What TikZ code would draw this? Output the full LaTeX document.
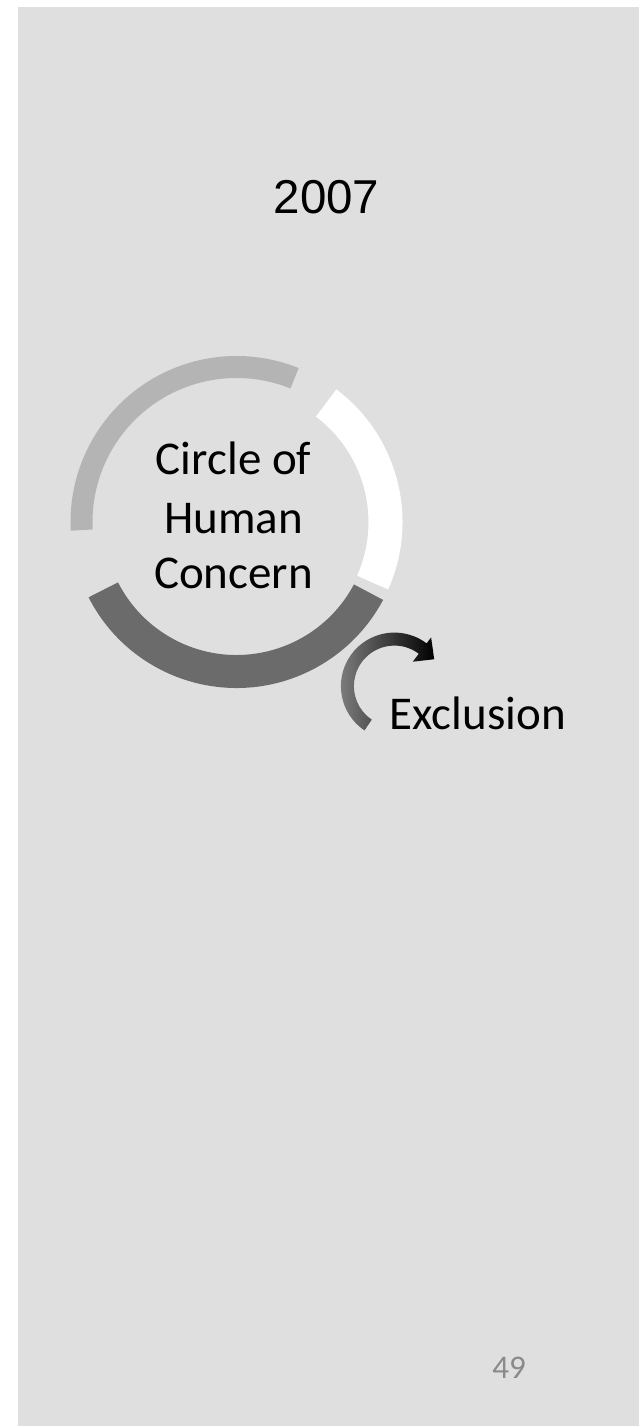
\documentclass[tikz,border=0pt]{standalone}
\usepackage{fontspec}
\setmainfont{Carlito}
\newfontfamily\yearfont{Liberation Sans}
\usetikzlibrary{calc}

\definecolor{slidebg}{HTML}{DFDFDF}
\definecolor{seglight}{HTML}{B4B4B4}
\definecolor{segdark}{HTML}{6B6B6B}
\definecolor{pagenum}{HTML}{8A8A8A}

\tikzset{
  seglightstyle/.style={fill=seglight},
  segwhitestyle/.style={fill=white},
  segdarkstyle/.style={fill=segdark},
  hookshade/.style={left color=black!48, right color=black},
  bodytext/.style={inner sep=0pt, font=\fontsize{47}{56}\selectfont},
  yeartext/.style={inner sep=0pt, font=\yearfont\fontsize{47.5}{57}\selectfont},
  pagetext/.style={inner sep=0pt, text=pagenum, font=\fontsize{33}{40}\selectfont},
}

\begin{document}
\begin{tikzpicture}[x=1pt,y=1pt]
  % page and slide background
  \fill[white] (0,0) rectangle (644,1426);
  \useasboundingbox (0,0) rectangle (644,1426);
  \fill[slidebg] (18,0) rectangle (639,1419);

  % year heading
  \node[yeartext, anchor=base] (year) at (326.5,1212) {2007};

  % ring of three segments
  \coordinate (ring) at (236.5,904);
  \fill[seglightstyle] ($(ring)+(68:166)$) arc[start angle=68, end angle=183, radius=166]
    -- ($(ring)+(183:144)$) arc[start angle=183, end angle=68, radius=144] -- cycle;
  \fill[segwhitestyle] ($(ring)+(-24:166)$) arc[start angle=-24, end angle=53, radius=166]
    -- ($(ring)+(53:132)$) arc[start angle=53, end angle=-24, radius=132] -- cycle;
  \fill[segdarkstyle] ($(ring)+(207:166)$) arc[start angle=207, end angle=332, radius=166]
    -- ($(ring)+(332:133)$) arc[start angle=332, end angle=207, radius=133] -- cycle;

  % label inside the ring
  \node[bodytext, anchor=base] (lineone) at (233.5,951) {Circle of};
  \node[bodytext, anchor=base] (linetwo) at (233.5,892.7) {Human};
  \node[bodytext, anchor=base] (linethree) at (233.5,837.7) {Concern};

  % curved arrow
  \coordinate (hook) at (394.4,739.9);
  \shade[hookshade] ($(hook)+(236:53.5)$) arc[start angle=236, end angle=53, radius=53.5]
    -- ($(hook)+(53:61)$) -- ($(hook)+(34:48)$) -- ($(hook)+(53:30.5)$)
    -- ($(hook)+(53:40.5)$) arc[start angle=53, end angle=236, radius=40.5] -- cycle;

  \node[bodytext, anchor=base west] (exclusion) at (389.5,696) {Exclusion};

  % page number
  \node[pagetext, anchor=base] (page) at (509,47) {49};
\end{tikzpicture}
\end{document}
